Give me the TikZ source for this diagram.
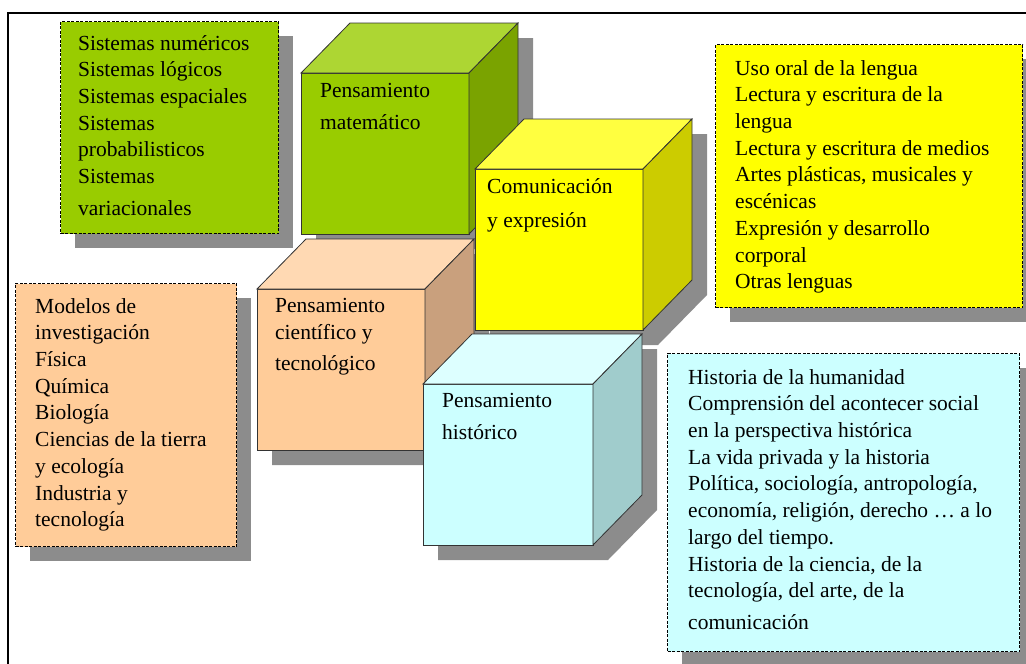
\documentclass[tikz,border=0pt]{standalone}
\usepackage{fontspec}
\setmainfont{Liberation Serif}
\newfontfamily\boxfont{Liberation Serif}
\usetikzlibrary{shadows}

\definecolor{matfront}{HTML}{99CC00}
\definecolor{mattop}{HTML}{ADD633}
\definecolor{matside}{HTML}{7AA300}
\definecolor{comfront}{HTML}{FFFF00}
\definecolor{comtop}{HTML}{FFFF40}
\definecolor{comside}{HTML}{CCCC00}
\definecolor{scifront}{HTML}{FFCC99}
\definecolor{scitop}{HTML}{FFD9B3}
\definecolor{sciside}{HTML}{C9A07D}
\definecolor{hisfront}{HTML}{CCFFFF}
\definecolor{histop}{HTML}{DDFFFF}
\definecolor{hisside}{HTML}{A0CCCC}
\definecolor{shade}{HTML}{8C8C8C}

\begin{document}
\begin{tikzpicture}[x=1pt, y=-1pt,
box/.style={draw, line width=1pt, dash pattern=on 3pt off 1.5pt, anchor=north west, inner sep=0pt,
  drop shadow={shadow xshift=14pt, shadow yshift=-14pt, fill=shade, opacity=1}},
face/.style={draw=black!80, line width=0.8pt},
cubeshadow/.style={fill=shade},
list/.style={anchor=north west, inner sep=0pt, align=left, font=\boxfont\fontsize{21.5}{26.7}\selectfont},
title/.style={anchor=north west, inner sep=0pt, align=left, font=\boxfont\fontsize{21.5}{32}\selectfont}
]
\useasboundingbox (0,0) rectangle (1026,664);
\draw[line width=1.5pt] (8,664) -- (8,13) -- (1026,13);

\node[box, fill=matfront, minimum width=218, minimum height=212] (numbox) at (60,21) {};
\node[list] (numtxt) at (78,35) {Sistemas numéricos\\ Sistemas lógicos\\ Sistemas espaciales\\ Sistemas\\ probabilisticos\\ Sistemas\\[5pt] variacionales};

\node[box, fill=comfront, minimum width=307, minimum height=263] (lenbox) at (715,44) {};
\node[list] (lentxt) at (735,60) {Uso oral de la lengua\\ Lectura y escritura de la\\ lengua\\ Lectura y escritura de medios\\ Artes plásticas, musicales y\\ escénicas\\ Expresión y desarrollo\\ corporal\\ Otras lenguas};

\node[box, fill=scifront, minimum width=221, minimum height=263] (invbox) at (15,283) {};
\node[list] (invtxt) at (35,298) {Modelos de\\ investigación\\ Física\\ Química\\ Biología\\ Ciencias de la tierra\\ y ecología\\ Industria y\\ tecnología};

\node[box, fill=hisfront, minimum width=352, minimum height=298] (humbox) at (667,353) {};
\node[list] (humtxt) at (688,369) {Historia de la humanidad\\ Comprensión del acontecer social\\ en la perspectiva histórica\\ La vida privada y la historia\\ Política, sociología, antropología,\\ economía, religión, derecho … a lo\\ largo del tiempo.\\ Historia de la ciencia, de la\\ tecnología, del arte, de la\\[5pt] comunicación};

\fill[cubeshadow] (316,88) -- ++(49,-50) -- ++(168,0) -- ++(0,161) -- ++(-49,50) -- ++(-168,0) -- cycle;
\fill[cubeshadow] (272,304) -- ++(49,-50) -- ++(168,0) -- ++(0,161) -- ++(-49,50) -- ++(-168,0) -- cycle;
\fill[cubeshadow] (490,184) -- ++(49,-50) -- ++(168,0) -- ++(0,161) -- ++(-49,50) -- ++(-168,0) -- cycle;
\fill[cubeshadow] (438,399) -- ++(49,-50) -- ++(170,0) -- ++(0,161) -- ++(-49,50) -- ++(-170,0) -- cycle;

\filldraw[face, fill=matfront] (301,73) rectangle ++(168,161);
\filldraw[face, fill=mattop] (301,73) -- ++(49,-50) -- ++(168,0) -- ++(-49,50) -- cycle;
\filldraw[face, fill=matside] (469,73) -- ++(49,-50) -- ++(0,161) -- ++(-49,50) -- cycle;
\node[title] (mat) at (320,83) {Pensamiento\\ matemático};

\filldraw[face, fill=scifront] (257,289) rectangle ++(168,161);
\filldraw[face, fill=scitop] (257,289) -- ++(49,-50) -- ++(168,0) -- ++(-49,50) -- cycle;
\filldraw[face, fill=sciside] (425,289) -- ++(49,-50) -- ++(0,161) -- ++(-49,50) -- cycle;
\node[list] (sci) at (275,298) {Pensamiento\\ científico y\\[5pt] tecnológico};

\filldraw[face, fill=comfront] (475,169) rectangle ++(168,161);
\filldraw[face, fill=comtop] (475,169) -- ++(49,-50) -- ++(168,0) -- ++(-49,50) -- cycle;
\filldraw[face, fill=comside] (643,169) -- ++(49,-50) -- ++(0,161) -- ++(-49,50) -- cycle;
\node[title] (com) at (487,178) {Comunicación\\[2pt] y expresión};

\filldraw[face, fill=hisfront] (423,384) rectangle ++(170,161);
\filldraw[face, fill=histop] (423,384) -- ++(49,-50) -- ++(170,0) -- ++(-49,50) -- cycle;
\filldraw[face, fill=hisside] (593,384) -- ++(49,-50) -- ++(0,161) -- ++(-49,50) -- cycle;
\node[title] (his) at (442,393) {Pensamiento\\ histórico};
\end{tikzpicture}
\end{document}
